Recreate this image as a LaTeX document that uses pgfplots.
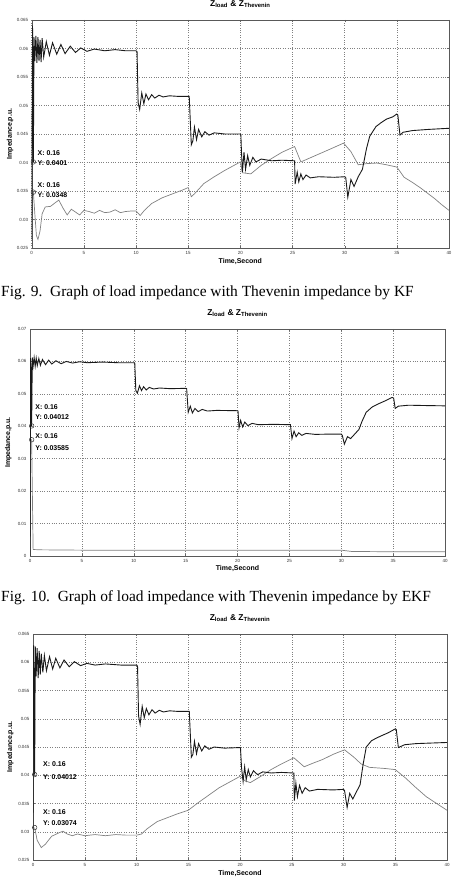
\documentclass[border=0pt]{standalone}
\usepackage{pgfplots}
\pgfplotsset{compat=1.18}
\usepackage{fontspec}
\setmainfont{Liberation Serif}
\newfontfamily\chartfont{Liberation Sans}
\pgfplotsset{
  matlab/.style={
    scale only axis,
    xmin=0, xmax=40, xtick={0,5,...,40},
    scaled y ticks=false,
    grid=major,
    major grid style={black!50, dotted, line width=0.45pt},
    axis line style={black!65, line width=0.4pt},
    major tick length=2bp,
    tick style={black!60, line width=0.3pt},
    ticklabel style={font=\chartfont\fontsize{4.5}{5}\selectfont, text=black!80},
    /pgf/number format/assume math mode=true,
    yticklabel style={/pgf/number format/fixed, /pgf/number format/precision=3},
    title={\chartfont\bfseries\fontsize{8.5}{9}\selectfont Z\textsubscript{load} \& Z\textsubscript{Thevenin}},
    xlabel={Time,Second},
    ylabel={Impedance,p.u.},
    label style={font=\chartfont\bfseries\fontsize{7}{8}\selectfont},
  },
  load/.style={black!90, line width=0.9pt},
  thev/.style={black!50, line width=0.7pt},
}
\tikzset{tip/.style={anchor=west, font=\chartfont\bfseries\fontsize{7}{8}\selectfont, inner sep=0pt}}
\begin{document}
\begin{tikzpicture}
\useasboundingbox (0,0) rectangle (456bp,878bp);
% ---------------- Plot 1 (KF) ----------------
\begin{axis}[matlab, at={(31.7bp,858bp)}, anchor=north west,
  width=417.3bp, height=228bp,
  ymin=0.025, ymax=0.065, ytick={0.025,0.03,...,0.065},
  title style={at={(axis description cs:0.5,1.044)}, anchor=center},
  xlabel style={at={(axis description cs:0.5,-0.061)}, anchor=center},
  ylabel style={at={(axis description cs:-0.052,0.5)}, anchor=center},
]
\addplot[thev] coordinates {
(0.16,0.0348)(0.3,0.031)(0.45,0.0272)(0.6,0.0265)(0.8,0.028)(1.0,0.031)(1.3,0.0322)(1.8,0.0323)(2.3,0.033)(2.6,0.0334)(3.0,0.032)(3.4,0.0308)(3.8,0.0318)(4.2,0.0313)(4.6,0.0308)(5.0,0.0316)(5.5,0.0314)(6.0,0.0311)(6.5,0.0316)(7,0.0312)(7.5,0.0313)(8,0.0317)(8.5,0.0312)(9,0.0314)(9.6,0.0315)(10,0.0315)(10.4,0.0307)(10.8,0.0316)(11.5,0.0328)(12.5,0.0338)(13.5,0.0345)(14.5,0.0352)(15,0.0356)(15.3,0.034)(15.6,0.0345)(16.5,0.0363)(17.5,0.0375)(18.5,0.0386)(19.5,0.0396)(20,0.0401)(20.2,0.0382)(21,0.038)(22,0.0395)(23,0.0407)(24,0.0418)(25.2,0.0428)(25.8,0.0401)(26.8,0.0409)(27.8,0.0417)(28.8,0.0425)(29.9,0.0434)(30.6,0.0419)(31.3,0.0396)(32.1,0.0398)(33.1,0.0399)(34,0.0396)(35,0.0392)(35.7,0.0374)(36.5,0.0365)(37.3,0.0355)(38.6,0.0337)(39.3,0.0326)(40,0.0316)
};
\addplot[load] coordinates {
(0,0.0265)(0.08,0.064)(0.16,0.0401)(0.22,0.062)(0.3,0.0578)(0.4,0.0622)(0.5,0.0575)(0.6,0.062)(0.7,0.0578)(0.8,0.0615)(0.9,0.0576)(1.0,0.0618)(1.15,0.0585)(1.4,0.0612)(1.7,0.0588)(2.0,0.061)(2.4,0.059)(2.8,0.0607)(3.2,0.0591)(3.7,0.0604)(4.2,0.0593)(4.7,0.0601)(5.3,0.0595)(6,0.0599)(7,0.0596)(8,0.0598)(9,0.0596)(10,0.0596)
(10.1,0.0594)(10.2,0.0505)(10.35,0.0493)(10.55,0.0522)(10.75,0.0503)(10.95,0.052)(11.2,0.051)(11.5,0.0519)(11.8,0.0513)(12.2,0.0518)(12.6,0.0515)(13.2,0.0517)(14,0.0516)(15,0.0516)
(15.1,0.0516)(15.3,0.0431)(15.45,0.0438)(15.6,0.0462)(15.8,0.044)(16.0,0.0458)(16.3,0.0445)(16.6,0.0454)(17,0.0448)(17.5,0.0452)(18.5,0.045)(20,0.045)
(20.05,0.0449)(20.1,0.0422)(20.2,0.0383)(20.35,0.0418)(20.5,0.0388)(20.7,0.0412)(20.9,0.0395)(21.2,0.0409)(21.5,0.0401)(22,0.0406)(23,0.0403)(24,0.0404)(25.2,0.0403)
(25.25,0.0362)(25.45,0.0383)(25.6,0.0366)(25.8,0.038)(26.0,0.037)(26.3,0.0378)(26.7,0.0373)(27.5,0.0375)(29,0.0374)(30,0.0375)
(30.1,0.0374)(30.3,0.0339)(30.6,0.037)(30.9,0.0358)(31.3,0.0375)(31.7,0.0388)(32.1,0.0425)(32.4,0.0446)(33,0.0463)(33.5,0.047)(34,0.0476)(34.6,0.048)(35,0.0485)(35.1,0.0483)(35.3,0.0448)(35.6,0.0453)(36.5,0.0456)(38,0.0458)(40,0.046)
};
\addplot[only marks, mark=o, mark size=2.3bp, black!80, mark options={line width=0.5pt}] coordinates {(0.16,0.0401)(0.16,0.0348)};
\node[tip] at (axis cs:0.55,0.0417) {X: 0.16};
\node[tip] at (axis cs:0.55,0.0399) {Y: 0.0401};
\node[tip] at (axis cs:0.55,0.0360) {X: 0.16};
\node[tip] at (axis cs:0.55,0.0343) {Y: 0.0348};
\end{axis}
\node[anchor=base west, font=\fontsize{15.5}{18}\selectfont, inner sep=0pt] at (1bp,581bp) {Fig. 9.\ \ Graph of load impedance with Thevenin impedance by KF};
% ---------------- Plot 2 (EKF) ----------------
\begin{axis}[matlab, at={(30bp,549bp)}, anchor=north west,
  width=415bp, height=227bp,
  ymin=0, ymax=0.07, ytick={0,0.01,...,0.07},
  title style={at={(axis description cs:0.5,1.044)}, anchor=center},
  xlabel style={at={(axis description cs:0.5,-0.057)}, anchor=center},
  ylabel style={at={(axis description cs:-0.052,0.5)}, anchor=center},
]
\addplot[thev] coordinates {
(0,0.0358)(0.16,0.03585)(0.3,0.002)(1,0.0019)(5,0.0018)(10,0.0018)(15,0.0018)(20,0.0018)(25,0.0018)(30,0.0018)(31,0.0014)(35,0.0013)(40,0.0013)
};
\addplot[load] coordinates {
(0,0.0)(0.05,0.061)(0.1,0.058)(0.16,0.04012)(0.22,0.0612)(0.3,0.0585)(0.4,0.0612)(0.5,0.0585)(0.6,0.061)(0.7,0.0587)(0.85,0.0609)(1.0,0.0588)(1.2,0.0606)(1.5,0.059)(1.8,0.0604)(2.1,0.0592)(2.5,0.0602)(3.0,0.0593)(3.5,0.06)(4.1,0.0595)(4.8,0.0599)(5.5,0.0596)(7,0.0598)(8.5,0.0596)(10,0.0596)
(10.1,0.0594)(10.2,0.051)(10.35,0.0502)(10.55,0.0525)(10.75,0.051)(10.95,0.0522)(11.2,0.0512)(11.5,0.052)(11.9,0.0515)(12.5,0.0518)(13.5,0.0516)(15,0.0517)
(15.1,0.0516)(15.25,0.0443)(15.45,0.0462)(15.65,0.0441)(15.9,0.0455)(16.2,0.0445)(16.6,0.0452)(17.1,0.0447)(18,0.0449)(20,0.0448)
(20.05,0.0447)(20.15,0.0395)(20.3,0.0418)(20.5,0.0398)(20.7,0.0413)(21,0.0402)(21.4,0.0409)(22,0.0405)(23.5,0.0406)(25,0.0405)
(25.1,0.0405)(25.25,0.0362)(25.45,0.0385)(25.65,0.0368)(25.9,0.038)(26.2,0.0372)(26.6,0.0378)(27.5,0.0375)(29,0.0376)(30,0.0376)
(30.1,0.0372)(30.3,0.0345)(30.6,0.0368)(30.9,0.0362)(31.3,0.0376)(31.7,0.039)(32,0.0415)(32.4,0.0443)(33,0.046)(33.5,0.0468)(34.2,0.0478)(34.9,0.0489)(35.05,0.0487)(35.2,0.0455)(35.5,0.0462)(36.5,0.0465)(38,0.0464)(40,0.0463)
};
\addplot[only marks, mark=o, mark size=2.3bp, black!80, mark options={line width=0.5pt}] coordinates {(0.16,0.04012)(0.16,0.03585)};
\node[tip] at (axis cs:0.5,0.0458) {X: 0.16};
\node[tip] at (axis cs:0.5,0.0428) {Y: 0.04012};
\node[tip] at (axis cs:0.5,0.0370) {X: 0.16};
\node[tip] at (axis cs:0.5,0.0333) {Y: 0.03585};
\end{axis}
\node[anchor=base west, font=\fontsize{15.5}{18}\selectfont, inner sep=0pt] at (1bp,276bp) {Fig. 10.\ \ Graph of load impedance with Thevenin impedance by EKF};
% ---------------- Plot 3 ----------------
\begin{axis}[matlab, at={(33bp,244bp)}, anchor=north west,
  width=414bp, height=226bp,
  ymin=0.025, ymax=0.065, ytick={0.025,0.03,...,0.065},
  title style={at={(axis description cs:0.5,1.044)}, anchor=center},
  xlabel style={at={(axis description cs:0.5,-0.062)}, anchor=center},
  ylabel style={at={(axis description cs:-0.055,0.5)}, anchor=center},
]
\addplot[thev] coordinates {
(0.16,0.03074)(0.4,0.0285)(0.8,0.0272)(1.2,0.0278)(1.8,0.0292)(2.5,0.0298)(2.9,0.0301)(3.3,0.0296)(3.8,0.0293)(4.3,0.0296)(5,0.0293)(6,0.0295)(7,0.0293)(8,0.0295)(9,0.0294)(10,0.0294)(10.5,0.0296)(11,0.0305)(12,0.0318)(13,0.0325)(14,0.0332)(15,0.0338)(16,0.0352)(17,0.0365)(18,0.0378)(19,0.0388)(20,0.0398)(20.5,0.039)(21,0.0387)(22,0.0398)(23,0.041)(24,0.042)(25.2,0.0431)(26.2,0.0415)(27,0.0421)(28,0.0428)(29,0.0437)(30.1,0.0445)(31,0.0432)(31.7,0.042)(32.5,0.0414)(34,0.0412)(35,0.041)(36,0.0395)(37,0.0378)(38,0.0362)(39,0.035)(40,0.0338)
};
\addplot[load] coordinates {
(0,0.0307)(0.06,0.063)(0.16,0.04012)(0.22,0.0628)(0.3,0.0575)(0.4,0.0625)(0.5,0.0572)(0.6,0.062)(0.7,0.0578)(0.8,0.0615)(0.95,0.0582)(1.1,0.0612)(1.3,0.0585)(1.6,0.061)(1.9,0.0588)(2.2,0.0607)(2.6,0.059)(3.0,0.0604)(3.5,0.0592)(4.0,0.0601)(4.6,0.0594)(5.2,0.0598)(6,0.0595)(7,0.0597)(8.5,0.0595)(10,0.0595)
(10.1,0.0593)(10.2,0.0505)(10.35,0.049)(10.55,0.0522)(10.75,0.0502)(10.95,0.0518)(11.2,0.0507)(11.5,0.0516)(11.8,0.051)(12.2,0.0515)(12.6,0.0512)(13.2,0.0514)(14,0.0513)(15,0.0513)
(15.1,0.0513)(15.3,0.0432)(15.45,0.0437)(15.6,0.046)(15.8,0.0438)(16.0,0.0456)(16.3,0.0443)(16.6,0.0452)(17,0.0446)(17.5,0.045)(18.5,0.0448)(20,0.0449)
(20.05,0.0448)(20.15,0.0413)(20.3,0.0389)(20.45,0.0415)(20.6,0.0392)(20.8,0.041)(21,0.0397)(21.3,0.0408)(21.7,0.0401)(22.2,0.0406)(23,0.0404)(24,0.0405)(25.2,0.0404)
(25.25,0.0355)(25.4,0.0386)(25.55,0.0362)(25.75,0.0382)(26.0,0.0368)(26.3,0.0378)(26.7,0.0372)(27.5,0.0375)(29,0.0374)(30,0.0375)
(30.1,0.0373)(30.35,0.0343)(30.6,0.0368)(30.9,0.0358)(31.2,0.0369)(31.6,0.0383)(31.9,0.042)(32.2,0.045)(32.7,0.0461)(33.2,0.0466)(33.8,0.0471)(34.3,0.0475)(35,0.0482)(35.1,0.0481)(35.3,0.0449)(35.9,0.0454)(37,0.0456)(38.5,0.0457)(40,0.0458)
};
\addplot[only marks, mark=o, mark size=2.3bp, black!80, mark options={line width=0.5pt}] coordinates {(0.16,0.04012)(0.16,0.03074)};
\node[tip] at (axis cs:0.97,0.0419) {X: 0.16};
\node[tip] at (axis cs:0.97,0.0397) {Y: 0.04012};
\node[tip] at (axis cs:0.97,0.0335) {X: 0.16};
\node[tip] at (axis cs:0.97,0.0316) {Y: 0.03074};
\end{axis}
\end{tikzpicture}
\end{document}
